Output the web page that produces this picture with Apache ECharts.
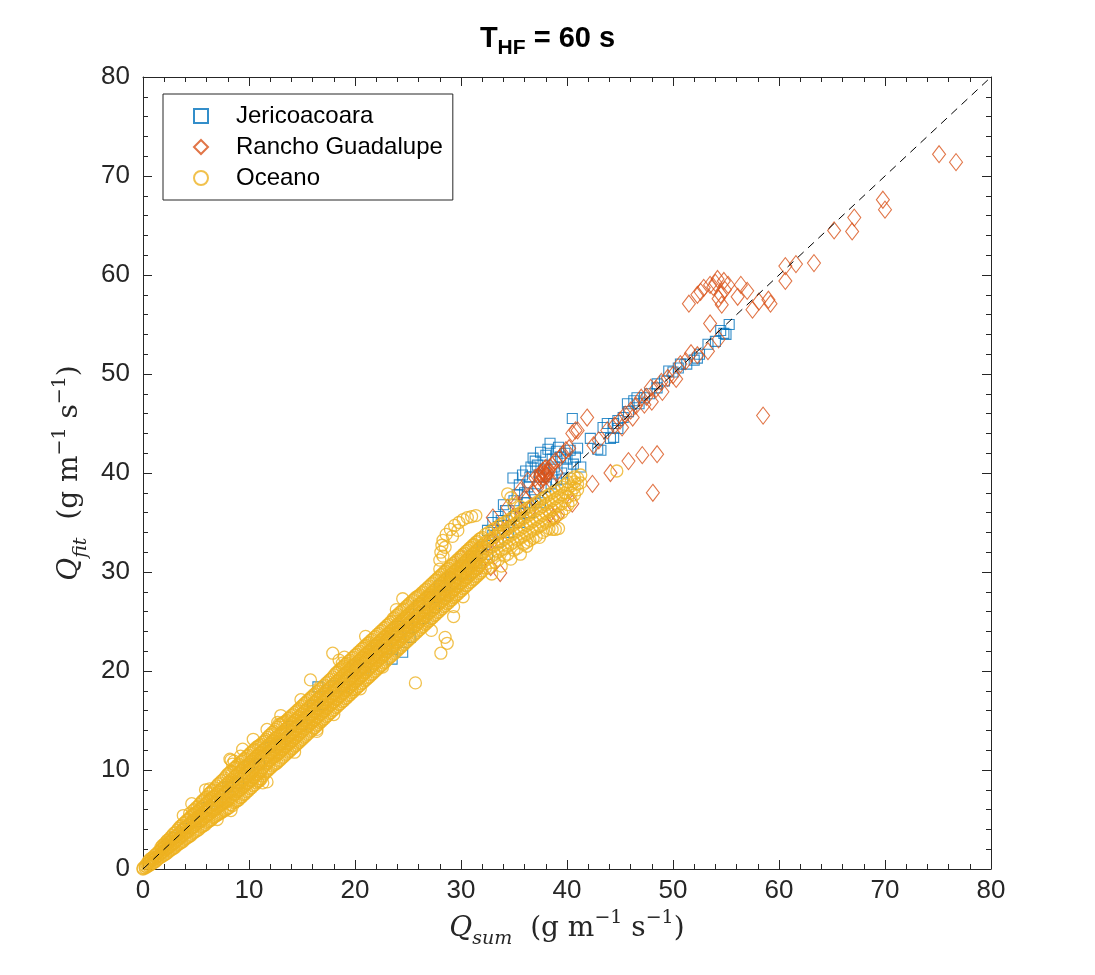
<!DOCTYPE html>
<html><head><meta charset="utf-8">
<script src="https://cdn.jsdelivr.net/npm/echarts@6.0.0/dist/echarts.min.js"></script>
<style>html,body{margin:0;padding:0;background:#fff;}#c{width:1095px;height:975px;}</style>
</head><body><div id="c"></div>
<script>
// ---------------- data ----------------
const seriesNames = ['Jericoacoara', 'Rancho Guadalupe', 'Oceano'];
const axisMin = 0, axisMax = 80, axisStep = 10;

const jericoacoara = [
[3,3.2],[4,4.1],[5,4.8],[6,6.2],[7,6.8],[8,8.3],[9,8.7],[10,10.4],[11,10.6],[12,12.3],[13,12.6],[14,14.4],[15,14.6],
[16,16.5],[16.5,18.4],[17,16.6],[18,18.5],[19,18.4],[20,20.6],[21,20.3],[22,22.6],[23,22.3],[23.5,21.2],[24,24.5],
[24.5,21.9],[25,24.3],[25.2,23.4],[26,26.6],[26.5,25.3],[27,27.5],[27.5,26.4],[28,28.6],[28.5,27.6],[29,29.5],
[29.5,28.8],[30,30.6],[30.5,29.8],[31,31.6],[31.5,30.9],[32,32.6],[32.5,31.8],[33,33.7],[33.5,33.0],[34,34.7],
[34.5,34.0],[35,35.6],[35.6,35.9],[35.5,35.0],[36,36.5],[36.2,37.0],[36.5,36.0],[37,37.3],[37.5,37.0],
[34.9,39.5],[36.1,40.2],[36.8,41.5],[37.5,42.1],[38.4,43.0],[38.0,41.8],[37.2,40.8],[36.5,39.6],[35.5,38.8],
[35.8,39.8],[37.8,40.4],[38.6,41.4],[39.0,42.2],[39.4,41.6],[39.8,42.0],[40.3,42.3],[40.6,40.9],[41.3,40.6],
[40.0,40.5],[39.5,40.0],[39.0,39.3],[38.5,38.9],[38.0,38.6],[40.5,45.5],[36.0,38.0],[35.0,37.2],[34.2,36.2],
[33.5,35.6],[33.0,35.0],[32.5,34.2],[40.8,41.6],[41.0,42.5],[36.6,40.6],[37.0,41.2],[38.2,42.4],[39.2,42.6],
[40.0,41.4],[38.8,40.6],[37.4,39.6],[36.3,38.6],[35.3,37.8],[34.0,36.8],[33.8,35.2],[36.9,37.9],[39.6,39.4],
[42.2,43.5],[42.9,42.4],[43.2,42.3],[43.4,44.6],[43.8,45.0],[44.4,45.0],[44.1,43.5],[44.4,43.6],[44.8,44.5],
[44.8,45.3],[45.3,45.6],[45.7,47.0],[45.8,46.2],[46.3,47.3],[46.6,47.6],[46.8,47.0],[47.3,47.6],[47.8,48.0],
[48.5,48.6],[48.5,49.0],[49.2,49.3],[49.6,50.3],[50.0,50.2],[50.5,50.6],[50.7,51.0],[51.3,51.0],[52.0,51.4],
[52.3,51.6],[52.5,52.0],[53.3,53.0],[54.0,53.3],[54.8,54.1],[55.0,54.0],[55.3,55.0],[54.5,54.4]
];

const ranchoGuadalupe = [
[20,20.2],[21,21.1],[22,21.8],[23,23.2],[24,23.8],[25,25.2],[26,25.8],[27,27.2],[28,27.8],[29,29.3],[30,29.8],
[31,31.2],[32,31.8],[32.5,32.9],[33,33.2],[33.5,34.0],[34,34.2],[30.0,31.5],[31.2,31.0],[31.8,30.6],
[32.8,30.5],[33.7,29.9],[34.5,34.5],[35.5,35.3],[36.5,36.3],
[33.0,35.5],[34.4,36.5],[35.6,38.2],[36.3,39.2],[37.0,39.5],[37.5,40.0],[37.8,39.9],[38.0,40.5],[38.3,40.2],
[37.6,39.3],[38.6,40.8],[38.9,41.2],[39.3,41.5],[39.6,41.9],[39.0,40.0],[38.5,39.2],[37.2,38.5],[36.8,38.0],
[36.0,37.4],[35.2,36.8],[39.9,42.3],[40.2,42.5],[40.5,44.0],[40.8,44.3],[41.0,44.3],[41.9,45.6],
[37.4,39.6],[37.7,40.2],[38.1,39.7],[37.9,40.4],[38.2,40.0],[37.5,39.8],[38.4,40.6],[37.3,39.0],[37.8,39.5],[38.0,39.9],
[39.1,35.7],[40.5,36.9],[38.7,35.5],[38.4,35.9],[42.4,38.9],[44.1,40.0],[45.8,41.2],[47.1,41.8],[48.5,41.9],[48.1,38.0],
[42.5,42.8],[43.0,43.3],[43.8,44.3],[44.5,44.8],[45.0,45.3],[45.5,45.9],[46.0,46.3],[46.5,46.8],[47.0,47.6],
[47.5,47.7],[47.9,48.6],[48.4,48.5],[48.9,49.2],[49.5,49.6],[50.0,49.9],[50.7,51.0],[51.2,51.3],[51.7,52.1],
[52.3,51.9],[53.3,52.3],[54.3,53.5],[53.5,55.1],[46.2,45.6],[47.3,46.9],[49.0,48.2],[50.3,49.5],[48.0,47.2],[45.2,44.6],
[51.5,57.1],[52.3,58.0],[52.9,58.7],[53.5,59.0],[54.2,59.6],[54.8,59.4],[54.0,59.2],[54.5,58.0],[54.3,57.6],
[54.6,57.0],[54.9,58.5],[55.2,59.0],[56.4,59.0],[57.0,58.4],[56.1,57.8],[57.5,56.5],[58.1,57.3],[59.0,57.5],
[59.2,57.1],[53.8,58.8],[52.6,58.3],
[60.6,60.9],[60.6,59.4],[61.6,61.1],[63.3,61.2],[65.2,64.5],[66.9,64.4],[67.1,65.8],[69.8,67.6],[70.0,66.6],
[75.1,72.2],[76.7,71.4],[58.5,45.8]
];

// Oceano: each row is one Q_sum value and the Q_fit values read at it
const oceanoRows = [
[0.0,[0.0,0.1]],[0.2,[0.1,0.3]],[0.5,[0.3,0.6,0.8]],[0.8,[0.5,0.9,1.1]],[1.1,[0.7,1.0,1.4]],[1.4,[1.0,1.3,1.7]],
[1.7,[1.2,1.6,2.0,2.2]],[2.0,[1.4,1.8,2.2,2.5]],[2.3,[1.6,2.1,2.5,2.9]],[2.6,[1.9,2.3,2.8,3.2]],
[2.9,[2.1,2.6,3.1,3.6]],[3.2,[2.4,2.9,3.4,3.9]],[3.5,[2.6,3.2,3.7,4.3]],[3.8,[2.8,3.4,4.0,4.6,5.4]],
[4.1,[3.1,3.7,4.3,4.9]],[4.4,[3.3,3.9,4.6,5.2,5.6]],[4.7,[3.6,4.2,4.9,5.5,5.9]],[5.0,[3.8,4.5,5.1,5.7,6.2]],
[5.3,[4.0,4.7,5.4,6.0,6.5]],[5.6,[4.3,5.0,5.6,6.3,6.9]],[5.9,[4.5,5.3,5.9,6.6,7.2,8.0]],[6.2,[4.8,5.5,6.2,6.9,7.6]],
[6.5,[5.0,5.8,6.5,7.2,7.9]],[6.8,[5.3,6.0,6.7,7.4,8.2]],[7.1,[5.5,6.3,7.0,7.8,8.6]],[7.4,[5.7,6.5,7.3,8.1,8.9]],
[7.7,[5.9,6.7,7.6,8.4,9.2]],[8.0,[6.1,6.9,7.8,8.7,9.6]],[8.3,[5.9,6.5,7.3,8.1,9.0,9.9,11.0]],
[8.6,[6.7,7.5,8.4,9.3,10.2,10.9]],[8.9,[6.9,7.8,8.7,9.6,10.5]],[9.2,[7.2,8.0,9.0,9.9,10.8,11.4]],
[9.5,[7.5,8.3,9.3,10.2,11.1]],[9.8,[7.8,8.6,9.6,10.5,11.4]],[10.1,[8.1,8.9,9.9,10.8,11.7]],
[10.4,[8.4,9.2,10.2,11.1,12.0]],[10.7,[8.7,9.5,10.5,11.4,12.3]],[11.0,[8.9,9.8,10.8,11.7,12.5]],
[11.3,[8.7,9.4,10.2,11.1,12.0,12.8]],[11.6,[9.8,10.6,11.4,12.3,13.1]],[11.9,[10.1,10.9,11.7,12.6,13.5]],
[12.2,[10.4,11.2,12.0,12.9,13.8]],[12.5,[10.6,11.4,12.3,13.2,14.1]],[12.8,[10.9,11.7,12.6,13.5,14.6]],
[13.1,[11.2,12.0,12.9,13.8,14.7]],[13.4,[11.5,12.3,13.2,14.1,14.9]],[13.7,[11.8,12.6,13.5,14.4,15.2]],
[14.0,[12.1,12.9,13.8,14.7,15.5]],[14.3,[11.8,12.4,13.2,14.1,15.0,15.8]],[14.6,[12.7,13.5,14.4,15.3,16.1]],
[14.9,[13.0,13.8,14.7,15.6,16.4,17.1]],[15.2,[13.3,14.1,15.0,15.9,16.7]],[15.5,[13.6,14.4,15.3,16.2,17.0]],
[15.8,[13.9,14.7,15.6,16.5,17.3,19.1]],[16.1,[14.2,15.0,15.9,16.8,17.6]],[16.4,[14.1,14.5,15.3,16.2,17.1,17.9]],
[16.7,[14.8,15.6,16.5,17.4,18.2]],[17.0,[15.1,15.9,16.8,17.7,18.5]],[17.3,[15.4,16.2,17.1,18.0,18.8]],
[17.6,[15.7,16.5,17.4,18.3,19.1]],[17.9,[16.0,16.8,17.7,18.6,19.4,21.8]],[18.2,[16.3,17.1,18.0,18.9,19.8]],
[18.5,[16.6,17.4,18.3,19.2,20.1,21.1]],[18.8,[16.9,17.7,18.6,19.5,20.4,20.8]],[19.1,[17.2,18.0,18.9,19.8,20.7]],
[19.4,[17.5,18.3,19.2,20.1,21.0]],[19.7,[17.8,18.1,18.6,19.5,20.4,21.3]],[20.0,[18.1,18.9,19.8,20.7,21.6]],
[20.3,[18.4,19.2,20.1,21.0,21.9]],[20.6,[18.7,19.5,20.4,21.3,22.2]],[20.9,[19.0,19.8,20.7,21.6,22.5]],
[21.2,[19.3,20.1,21.0,21.9,22.8]],[21.5,[19.6,20.4,21.3,22.2,23.1]],[21.8,[19.9,20.7,21.6,22.5,23.4]],
[22.1,[20.2,21.0,21.9,22.8,23.7]],[22.4,[20.5,21.3,22.2,23.1,24.0]],[22.7,[20.8,21.6,22.5,23.4,24.3]],
[23.0,[21.1,21.9,22.8,23.7,24.6]],[23.3,[21.4,22.2,23.1,24.0,24.9]],[23.6,[21.7,22.5,23.4,24.3,25.3]],
[23.9,[22.0,22.8,23.7,24.6,25.6,26.2]],[24.2,[22.3,23.1,24.0,24.9,25.9]],[24.5,[22.6,23.4,24.3,25.2,26.2]],
[24.8,[22.9,23.7,24.6,25.5,26.5]],[25.1,[23.2,24.0,24.9,25.8,26.8]],[25.4,[23.5,24.3,25.2,26.1,27.1]],
[25.7,[18.8,23.8,24.6,25.5,26.4,27.4]],[26.0,[24.1,24.9,25.8,26.7,27.6]],[26.3,[24.4,25.2,26.1,27.0,27.9]],
[26.6,[24.7,25.5,26.4,27.3,28.2]],[26.9,[25.0,25.8,26.7,27.6,28.5]],[27.2,[24.1,25.3,26.1,27.0,27.9,28.8]],
[27.5,[25.6,26.4,27.3,28.2,29.1]],[27.8,[25.9,26.7,27.6,28.5,29.4]],[28.1,[21.8,26.2,27.0,27.9,28.8,29.7]],
[28.4,[26.5,27.3,28.2,29.1,30.0]],[28.7,[22.8,26.8,27.6,28.5,29.4,30.3]],[29.0,[27.1,27.9,28.8,29.7,30.6]],
[29.3,[25.5,26.5,27.4,28.2,29.1,30.0,30.9]],[29.6,[27.7,28.5,29.4,30.3,31.2]],[29.9,[28.0,28.8,29.7,30.6,31.5]],
[30.2,[27.5,28.3,29.1,30.0,30.9,31.8]],[30.5,[28.6,29.4,30.3,31.2,32.1]],[30.8,[28.9,29.7,30.6,31.5,32.4]],
[31.1,[29.2,30.0,30.9,31.8,32.7]],[31.4,[29.5,30.3,31.2,32.1,33.0]],[31.7,[29.8,30.6,31.5,32.4,33.3]],
[32.0,[30.1,30.9,31.8,32.7,33.5]],[32.3,[30.4,31.2,32.1,33.0,33.8]],[32.6,[30.4,31.4,32.3,33.2,34.0]],
[32.9,[29.8,31.6,32.5,33.4,34.2]],[33.2,[31.0,31.8,32.7,33.6,34.4]],[33.5,[31.2,32.0,32.9,33.8,34.6]],
[33.8,[30.6,32.2,33.1,34.0,34.8]],[34.1,[31.6,32.4,33.3,34.2,35.0]],[34.4,[31.8,32.6,33.5,34.4,35.2,37.9]],
[34.7,[31.3,32.8,33.7,34.6,35.4,37.5]],[35.0,[32.2,33.0,33.9,34.8,35.6,36.8]],[35.3,[32.4,33.2,34.1,35.0,35.8]],
[35.6,[31.8,33.4,34.3,35.2,36.0,36.6]],[35.9,[32.8,33.6,34.5,35.4,36.2]],[36.2,[32.6,33.0,33.8,34.7,35.6,36.4]],
[36.5,[33.2,34.0,34.9,35.8,36.6]],[36.8,[33.4,34.2,35.1,36.0,36.8]],[37.1,[33.6,34.4,35.3,36.2,37.0]],
[37.4,[33.5,34.6,35.5,36.4,37.2]],[37.7,[34.0,34.8,35.7,36.6,37.4]],[38.0,[34.2,35.0,35.9,36.8,37.6]],
[38.3,[34.4,35.2,36.1,37.0,37.8]],[38.6,[34.3,35.4,36.3,37.2,38.0]],[38.9,[34.3,35.6,36.5,37.4,38.2]],
[39.2,[34.4,35.8,36.7,37.6,38.4]],[39.5,[36.0,36.9,37.8,38.6]],[39.8,[36.4,37.2,38.0,38.8]],
[40.1,[36.8,37.6,38.4,39.1]],[40.4,[37.2,38.0,38.7,39.4]],[40.7,[37.8,38.5,39.1,39.6]],[41.0,[38.3,38.9,39.5]],
[41.3,[39.0,39.8]]
];
// Oceano: further readings taken between the rows above (the band is solid in the picture up to about 32)
const oceanoRowsB = [
[0.35,[0.2,0.5]],[0.65,[0.4,0.7,1.0]],[0.95,[0.6,0.9,1.2]],[1.25,[0.8,1.2,1.5]],[1.55,[1.1,1.4,1.8]],
[1.85,[1.3,1.7,2.1,2.4]],[2.15,[1.5,2.0,2.4,2.7]],[2.45,[1.8,2.2,2.7,3.0]],[2.75,[2.0,2.5,3.0,3.4]],
[3.05,[2.2,2.7,3.3,3.7]],[3.35,[2.5,3.0,3.5,4.1]],[3.65,[2.7,3.3,3.9,4.4]],[3.95,[3.0,3.6,4.2,4.7]],
[4.25,[3.2,3.8,4.4,5.0]],[4.55,[3.4,4.1,4.7,5.3]],[4.85,[3.7,4.3,5.0,5.6,6.0]],[5.15,[3.9,4.6,5.2,5.8,6.3]],
[5.45,[4.2,4.8,5.5,6.1,6.7]],[5.75,[4.4,5.1,5.8,6.4,7.0]],[6.05,[4.7,5.4,6.0,6.7,7.3]],[6.35,[4.9,5.6,6.3,7.1,7.7]],
[6.65,[5.2,5.9,6.6,7.3,8.0]],[6.95,[5.4,6.1,6.9,7.6,8.4]],[7.25,[5.6,6.4,7.1,7.9,8.7]],[7.55,[5.8,6.6,7.4,8.2,9.0]],
[7.85,[6.0,6.8,7.7,8.5,9.4]],[8.15,[6.2,7.1,7.9,8.8,9.7]],[8.45,[6.4,7.2,8.1,8.9,9.8,10.6]],
[8.75,[6.8,7.6,8.5,9.4,10.3]],[9.05,[7.0,7.9,8.8,9.7,10.6]],[9.35,[7.3,8.2,9.1,10.0,10.9]],
[9.65,[7.6,8.5,9.4,10.3,11.2]],[9.95,[7.9,8.7,9.7,10.6,11.5]],[10.25,[8.2,9.0,10.0,10.9,11.8]],
[10.55,[8.5,9.3,10.3,11.2,12.1]],[10.85,[8.8,9.6,10.6,11.5,12.4]],[11.15,[9.1,9.9,10.9,11.8,12.6]],
[11.45,[9.6,10.4,11.2,12.1,12.9]],[11.75,[9.9,10.7,11.5,12.4,13.3]],[12.05,[10.2,11.0,11.8,12.7,13.6]],
[12.35,[10.5,11.3,12.1,13.0,13.9]],[12.65,[10.7,11.5,12.4,13.3,14.3]],[12.95,[11.0,11.8,12.7,13.6,14.6]],
[13.25,[11.3,12.1,13.0,13.9,14.8]],[13.55,[11.6,12.4,13.3,14.2,15.0]],[13.85,[11.9,12.7,13.6,14.5,15.3]],
[14.15,[12.2,13.0,13.9,14.8,15.6]],[14.45,[12.5,13.3,14.2,15.1,15.9]],[14.75,[12.8,13.6,14.5,15.4,16.2]],
[15.05,[13.1,13.9,14.8,15.7,16.5]],[15.35,[13.4,14.2,15.1,16.0,16.8]],[15.65,[13.7,14.5,15.4,16.3,17.1]],
[15.95,[14.0,14.8,15.7,16.6,17.4]],[16.25,[14.3,15.1,16.0,16.9,17.7]],[16.55,[14.6,15.4,16.3,17.2,18.0]],
[16.85,[14.9,15.7,16.6,17.5,18.3]],[17.15,[15.2,16.0,16.9,17.8,18.6]],[17.45,[15.5,16.3,17.2,18.1,18.9]],
[17.75,[15.8,16.6,17.5,18.4,19.2]],[18.05,[16.1,16.9,17.8,18.7,19.6]],[18.35,[16.4,17.2,18.1,19.0,19.9]],
[18.65,[16.7,17.5,18.4,19.3,20.2]],[18.95,[17.0,17.8,18.7,19.6,20.5]],[19.25,[17.3,18.1,19.0,19.9,20.8]],
[19.55,[17.6,18.4,19.3,20.2,21.1]],[19.85,[17.9,18.7,19.6,20.5,21.4]],[20.15,[18.2,19.0,19.9,20.8,21.7]],
[20.45,[18.5,19.3,20.2,21.1,22.0]],[20.75,[18.8,19.6,20.5,21.4,22.3]],[21.05,[19.1,19.9,20.8,21.7,22.6]],
[21.35,[19.4,20.2,21.1,22.0,22.9]],[21.65,[19.7,20.5,21.4,22.3,23.2]],[21.95,[20.0,20.8,21.7,22.6,23.5]],
[22.25,[20.3,21.1,22.0,22.9,23.8]],[22.55,[20.6,21.4,22.3,23.2,24.1]],[22.85,[20.9,21.7,22.6,23.5,24.4]],
[23.15,[21.2,22.0,22.9,23.8,24.7]],[23.45,[21.5,22.3,23.2,24.1,25.0]],[23.75,[21.8,22.6,23.5,24.4,25.4]],
[24.05,[22.1,22.9,23.8,24.7,25.7]],[24.35,[22.4,23.2,24.1,25.0,26.0]],[24.65,[22.7,23.5,24.4,25.3,26.3]],
[24.95,[23.0,23.8,24.7,25.6,26.6]],[25.25,[23.3,24.1,25.0,25.9,26.9]],[25.55,[23.6,24.4,25.3,26.2,27.2]],
[25.85,[23.9,24.7,25.6,26.5,27.5]],[26.15,[24.2,25.0,25.9,26.8,27.7]],[26.45,[24.5,25.3,26.2,27.1,28.0]],
[26.75,[24.8,25.6,26.5,27.4,28.3]],[27.05,[25.1,25.9,26.8,27.7,28.6]],[27.35,[25.4,26.2,27.1,28.0,28.9]],
[27.65,[25.7,26.5,27.4,28.3,29.2]],[27.95,[26.0,26.8,27.7,28.6,29.5]],[28.25,[26.3,27.1,28.0,28.9,29.8]],
[28.55,[26.6,27.4,28.3,29.2,30.1]],[28.85,[26.9,27.7,28.6,29.5,30.4]],[29.15,[27.2,28.0,28.9,29.8,30.7]],
[29.45,[27.5,28.3,29.2,30.1,31.0]],[29.75,[27.8,28.6,29.5,30.4,31.3]],[30.05,[28.1,28.9,29.8,30.7,31.6]],
[30.35,[28.4,29.2,30.1,31.0,31.9]],[30.65,[28.7,29.5,30.4,31.3,32.2]],[30.95,[29.0,29.8,30.7,31.6,32.5]],
[31.25,[29.3,30.1,31.0,31.9,32.8]],[31.55,[29.6,30.4,31.3,32.2,33.1]],[31.85,[29.9,30.7,31.6,32.5,33.4]]
];
// Oceano loop near Q_sum = 28-31 and isolated points along the band edges
const oceanoExtra = [
[28.0,30.3],[28.0,31.2],[28.1,32.0],[28.2,32.7],[28.3,33.2],[28.6,33.8],[29.0,34.3],[29.4,34.7],[29.8,35.0],
[30.2,35.3],[30.6,35.5],[31.0,35.6],[31.4,35.7],[28.3,31.6],[28.5,32.5],[29.2,33.6],[29.7,34.2],
[28.5,23.4],[10.8,8.9],[11.7,8.8],[8.2,11.1],[12.7,14.8],[44.7,40.2],
[6.3,8.1],[9.4,12.1],[10.4,13.1],[11.7,14.1],[11.0,9.1],[16.4,13.9],[18.0,15.6],[20.5,18.2],[22.6,20.4],
[19.0,21.4],[21.0,23.5],[13.0,15.5],[4.6,6.6],[7.0,5.0],[24.5,27.3]
];

const oneToOne = [[axisMin, axisMin], [axisMax, axisMax]];

// table for the library: flatten the rows into [x, y] pairs
const oceano = [];
oceanoRows.concat(oceanoRowsB).forEach(function (row) {
  row[1].forEach(function (y) { oceano.push([row[0], y]); });
});
oceanoExtra.forEach(function (p) { oceano.push(p); });

// ---------------- chart ----------------
const ink = '#262626';
const tickFont = 'Liberation Sans, Arial, Helvetica, sans-serif';
const serif = 'DejaVu Serif, Liberation Serif, serif';

const nameRich = {
  q:   {fontFamily: serif, fontStyle: 'italic', fontSize: 28, color: ink, lineHeight: 40, verticalAlign: 'middle'},
  sb:  {fontFamily: serif, fontStyle: 'italic', fontSize: 19, color: ink, lineHeight: 19, verticalAlign: 'bottom'},
  r:   {fontFamily: serif, fontSize: 28, color: ink, lineHeight: 40, verticalAlign: 'middle'},
  sp:  {fontFamily: serif, fontSize: 19, color: ink, lineHeight: 19, verticalAlign: 'top'}
};

function baseAxis(extra) {
  return Object.assign({
    type: 'value', min: axisMin, max: axisMax, interval: axisStep,
    axisLine: {show: true, onZero: false, lineStyle: {color: ink, width: 1}},
    axisTick: {show: true, inside: true, length: 9, lineStyle: {color: ink, width: 1}},
    minorTick: {show: true, splitNumber: 5, length: 5, lineStyle: {color: ink, width: 1}},
    splitLine: {show: false},
    minorSplitLine: {show: false},
    axisLabel: {color: ink, fontFamily: tickFont, fontSize: 26, margin: 9}
  }, extra);
}

const chart = echarts.init(document.getElementById('c'), null, {renderer: 'canvas'});
chart.setOption({
  animation: false,
  backgroundColor: '#fff',
  title: {
    left: 'center', top: 14,
    text: '{t|T}{s|HF}{t| = 60 s}',
    textStyle: {
      rich: {
        t: {fontFamily: tickFont, fontWeight: 'bold', fontSize: 29, color: '#000', lineHeight: 40, verticalAlign: 'middle'},
        s: {fontFamily: tickFont, fontWeight: 'bold', fontSize: 21, color: '#000', lineHeight: 20, verticalAlign: 'bottom'}
      }
    }
  },
  grid: {left: 143, right: 104, top: 77, bottom: 106, containLabel: false},
  xAxis: [
    baseAxis({position: 'bottom',
      name: '{q|Q}{sb|sum}{r|  (g m}{sp|−1}{r| s}{sp|−1}{r|)}',
      nameLocation: 'middle', nameGap: 33, nameTextStyle: {rich: nameRich}}),
    baseAxis({position: 'top', axisLabel: {show: false}})
  ],
  yAxis: [
    baseAxis({position: 'left', axisLabel: {color: ink, fontFamily: tickFont, fontSize: 26, margin: 13},
      name: '{q|Q}{sb|fit}{r|  (g m}{sp|−1}{r| s}{sp|−1}{r|)}',
      nameLocation: 'middle', nameRotate: 90, nameGap: 52, nameTextStyle: {rich: nameRich}}),
    baseAxis({position: 'right', axisLabel: {show: false}})
  ],
  legend: {
    data: seriesNames,
    orient: 'vertical', left: 163, top: 94,
    padding: [10, 10, 10, 30],
    itemGap: 7, itemWidth: 14, itemHeight: 14,
    backgroundColor: '#fff', borderColor: ink, borderWidth: 1, borderRadius: 0,
    textStyle: {color: '#000', fontFamily: tickFont, fontSize: 24, lineHeight: 24, padding: [0, 0, 0, 23]},
    selectedMode: false
  },
  series: [
    {name: seriesNames[0], type: 'scatter', data: jericoacoara, symbol: 'rect', symbolSize: 10,
      itemStyle: {color: 'rgba(255,255,255,0)', borderColor: '#0072BD', borderWidth: 1.1}, z: 2, silent: true},
    {name: seriesNames[1], type: 'scatter', data: ranchoGuadalupe, symbol: 'diamond', symbolSize: [13, 17],
      itemStyle: {color: 'rgba(255,255,255,0)', borderColor: '#D95319', borderWidth: 1.1}, z: 3, silent: true},
    {name: seriesNames[2], type: 'scatter', data: oceano, symbol: 'circle', symbolSize: 12, large: false,
      itemStyle: {color: 'rgba(255,255,255,0)', borderColor: '#EDB120', borderWidth: 1.3}, z: 4, silent: true},
    {name: 'y = x', type: 'line', data: oneToOne, symbol: 'none', z: 5, silent: true,
      lineStyle: {color: '#000', width: 1, type: [8, 6]}}
  ]
});
</script></body></html>
